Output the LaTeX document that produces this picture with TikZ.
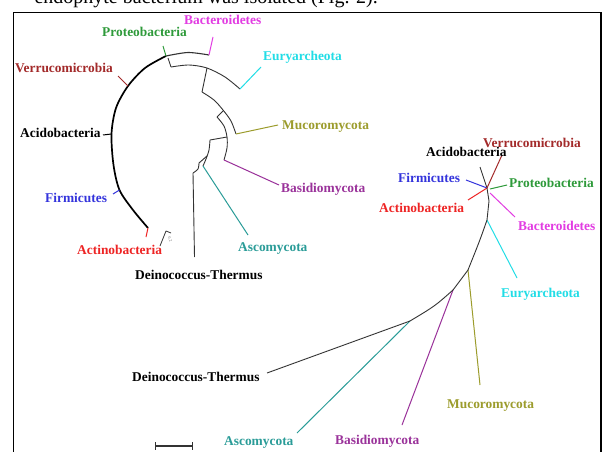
\documentclass[tikz,border=0pt]{standalone}
\usepackage{fontspec}
\setmainfont{Liberation Serif}
\definecolor{cBact}{HTML}{E23CE2}
\definecolor{cProt}{HTML}{2E9A3A}
\definecolor{cEury}{HTML}{22DDE6}
\definecolor{cVerr}{HTML}{A32A2A}
\definecolor{cMuco}{HTML}{9C9C2C}
\definecolor{cBasi}{HTML}{9A329A}
\definecolor{cFirm}{HTML}{3434DC}
\definecolor{cActi}{HTML}{EE2424}
\definecolor{cAsco}{HTML}{2A9C98}
\definecolor{cTree}{HTML}{333333}
\begin{document}
\begin{tikzpicture}[x=1pt,y=-1pt,
  lbl/.style={font=\bfseries\fontsize{13.4}{14}\selectfont, inner sep=0pt, anchor=base west},
  br/.style={line width=0.9pt, draw=cTree, line join=round},
  thickbr/.style={line width=1.7pt, draw=black, line join=round},
  lf/.style={line width=1pt}]
\useasboundingbox (0,0) rectangle (605,452);
\fill[white] (0,0) rectangle (605,452);
% clipped caption line above the frame
\node[font=\fontsize{20}{22}\selectfont, inner sep=0pt, anchor=base east] (cap) at (378,4) {endophyte bacterium was isolated (Fig. 2).};
% frame
\draw[line width=1.4pt] (13.5,470) -- (13.5,12.3) -- (601,12.3) -- (601,470);

% ================= left circular tree =================
\coordinate (actE) at (148,228); \coordinate (actT) at (146,237);
\coordinate (firE) at (119.5,190); \coordinate (firT) at (113,194);
\coordinate (acdE) at (111.5,134); \coordinate (acdT) at (103,135);
\coordinate (verE) at (128,86); \coordinate (verT) at (118,76);
\coordinate (proE) at (166,56); \coordinate (proT) at (163,46);
\coordinate (bacE) at (209,55); \coordinate (bacT) at (213,37);
\draw[thickbr] plot[smooth] coordinates {(148,228) (133,210) (119.5,190) (113.5,165) (111.5,134) (116,108) (128,86) (145,68) (166,56)};
\draw[br, line width=1.1pt] plot[smooth] coordinates {(166,56) (188,52.5) (209,55)};
\draw[lf, cActi] (actE) -- (actT);
\draw[lf, cFirm] (firE) -- (firT);
\draw[lf, black] (acdE) -- (acdT);
\draw[lf, cVerr] (verE) -- (verT);
\draw[lf, cProt] (proE) -- (proT);
\draw[lf, cBact] (bacE) -- (bacT);
% Euryarcheota node
\coordinate (n1a) at (168,58); \coordinate (n1b) at (171,67);
\draw[br] (n1a) -- (n1b);
\draw[br] plot[smooth] coordinates {(171,67) (189,65) (207,68) (225,77) (240,89)};
\coordinate (euE) at (240,89); \coordinate (euT) at (261,67);
\draw[lf, cEury] (euE) -- (euT);
% Mucoromycota node
\coordinate (n2a) at (207,68); \coordinate (n2b) at (202,92);
\draw[br] (n2a) -- (n2b);
\draw[br] plot[smooth] coordinates {(202,92) (214,100) (223,110) (231,121) (236,134)};
\coordinate (muE) at (236,134); \coordinate (muT) at (278,125);
\draw[lf, cMuco] (muE) -- (muT);
% Basidiomycota node
\coordinate (n3a) at (223,111); \coordinate (n3b) at (217,117);
\draw[br] (n3a) -- (n3b);
\draw[br] plot[smooth] coordinates {(217,117) (224,126) (227,137) (227,148) (224,160)};
\coordinate (baE) at (224,160); \coordinate (baT) at (279,185);
\draw[lf, cBasi] (baE) -- (baT);
% Ascomycota node
\coordinate (n4a) at (227,137); \coordinate (n4b) at (210,140);
\draw[br] (n4a) -- (n4b);
\draw[br] plot[smooth] coordinates {(210,140) (209,150) (206,159) (203,166)};
\coordinate (asE) at (203,166); \coordinate (asT) at (248,235);
\draw[lf, cAsco] (asE) -- (asT);
% root
\coordinate (n5a) at (207,156); \coordinate (n5b) at (199,163);
\draw[br] (n5a) -- (n5b);
\draw[br] plot[smooth] coordinates {(199,163) (198,169) (193,173)};
\coordinate (deE) at (193,173); \coordinate (deT) at (194.5,257);
\draw[br] (deE) -- (deT);
% small scale mark
\coordinate (sc1) at (160,246); \coordinate (sc2) at (166,231); \coordinate (sc3) at (171,233);
\draw[br, line width=0.8pt] (sc1) -- (sc2) -- (sc3);
\node[font=\fontsize{4}{4}\selectfont, inner sep=0pt, rotate=-65, text=black!60] (scl) at (170,239) {0.2};

% left labels
\node[lbl, text=cBact] (Lbac) at (184,24.5) {Bacteroidetes};
\node[lbl, text=cProt] (Lpro) at (102,36.5) {Proteobacteria};
\node[lbl, text=cEury] (Leur) at (263,60.5) {Euryarcheota};
\node[lbl, text=cVerr] (Lver) at (15,72.5) {Verrucomicrobia};
\node[lbl, text=black] (Lacd) at (20,137.5) {Acidobacteria};
\node[lbl, text=cMuco] (Lmuc) at (282,129.5) {Mucoromycota};
\node[lbl, text=cBasi] (Lbas) at (281,192.5) {Basidiomycota};
\node[lbl, text=cFirm] (Lfir) at (45,202.5) {Firmicutes};
\node[lbl, text=cActi] (Lact) at (77,254.5) {Actinobacteria};
\node[lbl, text=cAsco] (Lasc) at (238,251.5) {Ascomycota};
\node[lbl, text=black] (Ldei) at (135,279.5) {Deinococcus-Thermus};

% ================= right unrooted tree =================
\coordinate (H) at (487,188);
\coordinate (rAcd) at (480,167);
\coordinate (rVer) at (502,155);
\coordinate (rFir) at (466,180);
\coordinate (rAct) at (468,200);
\coordinate (rProS) at (490,189); \coordinate (rPro) at (507,185);
\coordinate (rBacS) at (490,193); \coordinate (rBac) at (515,217);
\coordinate (E1) at (487,220); \coordinate (rEur) at (517,278);
\coordinate (M1) at (468,270); \coordinate (rMuc) at (480,385);
\coordinate (B1) at (453,290); \coordinate (rBas) at (402,425);
\coordinate (A1) at (410,321); \coordinate (rAsc) at (297,433);
\coordinate (D1) at (267,373);
\draw[br] (H) -- (rAcd);
\draw[lf, cVerr] (H) -- (rVer);
\draw[lf, cFirm] (H) -- (rFir);
\draw[lf, cActi] (H) -- (rAct);
\draw[lf, cProt] (rProS) -- (rPro);
\draw[lf, cBact] (rBacS) -- (rBac);
\draw[br] (H) -- (489,201) -- (E1);
\draw[lf, cEury] (E1) -- (rEur);
\draw[br] (E1) .. controls (480,240) .. (M1);
\draw[lf, cMuco] (M1) -- (rMuc);
\draw[br] (M1) -- (B1);
\draw[lf, cBasi] (B1) -- (rBas);
\draw[br] (B1) .. controls (435,306) .. (A1);
\draw[lf, cAsco] (A1) -- (rAsc);
\draw[br] (A1) -- (D1);

% right labels
\node[lbl, text=black] (Racd) at (426,156.5) {Acidobacteria};
\node[lbl, text=cVerr] (Rver) at (483,147.5) {Verrucomicrobia};
\node[lbl, text=cFirm] (Rfir) at (398,182.5) {Firmicutes};
\node[lbl, text=cProt] (Rpro) at (509,187.5) {Proteobacteria};
\node[lbl, text=cActi] (Ract) at (379,212.5) {Actinobacteria};
\node[lbl, text=cBact] (Rbac) at (518,230.5) {Bacteroidetes};
\node[lbl, text=cEury] (Reur) at (501,297.5) {Euryarcheota};
\node[lbl, text=cMuco] (Rmuc) at (447,408.5) {Mucoromycota};
\node[lbl, text=cBasi] (Rbas) at (335,444.5) {Basidiomycota};
\node[lbl, text=cAsco] (Rasc) at (224,445.5) {Ascomycota};
\node[lbl, text=black] (Rdei) at (132,381.5) {Deinococcus-Thermus};

% bottom scale bar
\coordinate (sb1) at (155,446); \coordinate (sb2) at (192,446);
\draw[br, line width=1.2pt] (sb1) -- (sb2);
\draw[br, line width=1pt] (155,442) -- (155,450) (192,442) -- (192,450);
\end{tikzpicture}
\end{document}
